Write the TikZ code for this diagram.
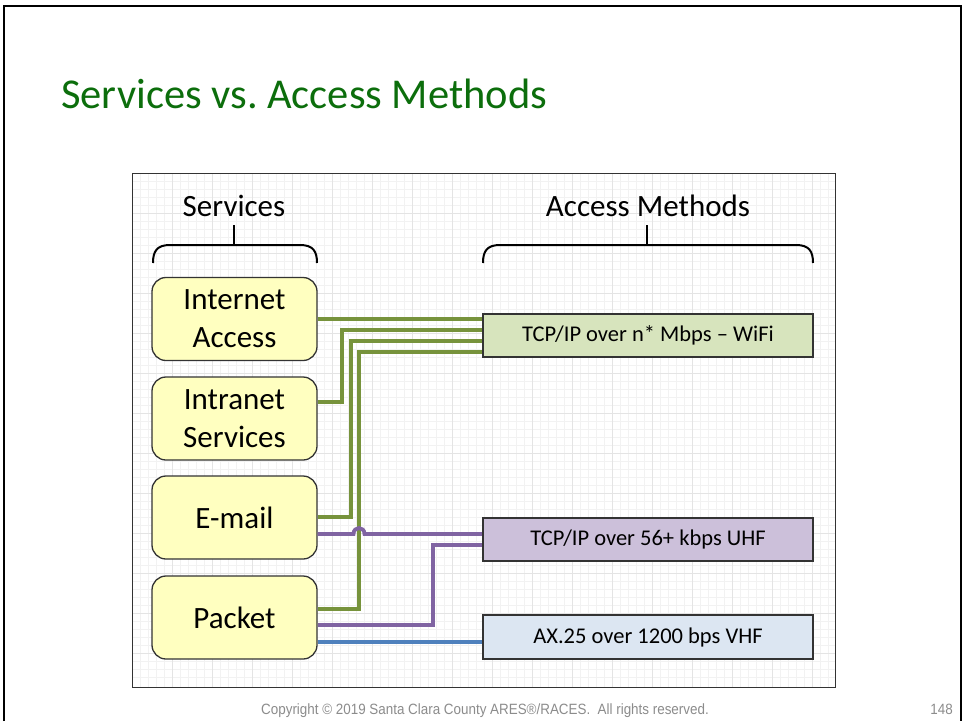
\documentclass[tikz,border=0pt]{standalone}
\usepackage{fontspec}
\setmainfont{Carlito}
\newfontfamily\copyfont[FakeStretch=0.9]{Liberation Sans}
\definecolor{titlegreen}{RGB}{12,110,12}
\definecolor{svcfill}{RGB}{255,255,192}
\definecolor{wififill}{RGB}{215,228,189}
\definecolor{uhffill}{RGB}{204,192,218}
\definecolor{vhffill}{RGB}{220,230,242}
\definecolor{gcol}{RGB}{119,147,60}
\definecolor{pcol}{RGB}{128,100,162}
\definecolor{bcol}{RGB}{79,129,189}
\definecolor{gridminor}{RGB}{242,242,242}
\definecolor{gridmajor}{RGB}{228,228,228}
\begin{document}
\begin{tikzpicture}[x=1pt,y=-1pt,
  svc/.style={draw=black!80, line width=1.3pt, fill=svcfill, rounded corners=14pt,
    minimum width=165pt, minimum height=83pt, align=center, inner sep=0pt,
    font=\fontsize{31}{38}\selectfont},
  acc/.style={draw=black!80, line width=1.3pt, minimum width=330pt, minimum height=43pt,
    inner sep=0pt, font=\fontsize{22.5}{27}\selectfont},
  hdr/.style={font=\fontsize{31}{38}\selectfont, inner sep=0pt},
  brace/.style={line width=2pt, black},
  gline/.style={line width=3.8pt, gcol},
  pline/.style={line width=3.8pt, pcol},
  bline/.style={line width=3.8pt, bcol},
  foot/.style={anchor=base west, inner sep=0pt, text=black!45, font=\copyfont\fontsize{14.9}{17}\selectfont}]
\useasboundingbox (0,0) rectangle (965,721);
\fill[white] (0,0) rectangle (965,721);
% outer frame
\draw[line width=2.2pt] (4,721) -- (4,6) -- (961,6) -- (961,721);
% title
\node[anchor=base west, text=titlegreen, inner sep=0pt, font=\fontsize{42.5}{50}\selectfont] (title) at (61,108) {Services vs.\ Access Methods};
% diagram grid
\fill[white] (132,173) rectangle (835,687);
\foreach \gx in {140,148,...,832} \draw[gridminor, line width=0.6pt] (\gx,173) -- (\gx,687);
\foreach \gy in {181,189,...,684} \draw[gridminor, line width=0.6pt] (132,\gy) -- (835,\gy);
\foreach \gx in {172,212,...,832} \draw[gridmajor, line width=0.7pt] (\gx,173) -- (\gx,687);
\foreach \gy in {213,253,...,684} \draw[gridmajor, line width=0.7pt] (132,\gy) -- (835,\gy);
\draw[black!80, line width=1pt] (132,173) rectangle (835,687);
% headers
\node[hdr] (shdr) at (234,206) {Services};
\node[hdr] (ahdr) at (648,206) {Access Methods};
% braces
\draw[brace] (153,263) .. controls (153,251) and (157,245) .. (170,245) -- (300,245) .. controls (313,245) and (317,251) .. (317,263);
\draw[brace] (234,225) -- (234,245);
\draw[brace] (483,263) .. controls (483,251) and (487,245) .. (500,245) -- (796,245) .. controls (809,245) and (813,251) .. (813,263);
\draw[brace] (647,225) -- (647,245);
% service boxes
\node[svc] (ia) at (234.5,319) {Internet\\Access};
\node[svc] (is) at (234.5,418.5) {Intranet\\Services};
\node[svc] (em) at (234.5,517.5) {E-mail};
\node[svc] (pk) at (234.5,617.5) {Packet};
% access boxes
\node[acc, fill=wififill] (wifi) at (648,335.5) {TCP/IP over n* Mbps -- WiFi};
\node[acc, fill=uhffill] (uhf) at (648,539.5) {TCP/IP over 56+ kbps UHF};
\node[acc, fill=vhffill] (vhf) at (648,637) {AX.25 over 1200 bps VHF};
% helper coordinates
\coordinate (g1) at (0,319);
\coordinate (g2) at (0,330);
\coordinate (g3) at (0,341);
\coordinate (g4) at (0,352);
\coordinate (v2) at (342,402);
\coordinate (v3) at (351,517);
\coordinate (v4) at (359,609);
\coordinate (p1) at (0,534);
\coordinate (p2) at (433,625);
\coordinate (p3) at (0,545);
\coordinate (b1) at (0,642);
% green connectors
\draw[gline] (ia.east |- g1) -- (wifi.west |- g1);
\draw[gline] (is.east |- v2) -- (v2) -- (v2 |- g2) -- (wifi.west |- g2);
\draw[gline] (em.east |- v3) -- (v3) -- (v3 |- g3) -- (wifi.west |- g3);
\draw[gline] (pk.east |- v4) -- (v4) -- (v4 |- g4) -- (wifi.west |- g4);
% purple connectors
\draw[pline] (em.east |- p1) -- (353.5,534) .. controls (353.5,526) and (364.5,526) .. (364.5,534) -- (uhf.west |- p1);
\draw[pline] (pk.east |- p2) -- (p2) -- (p2 |- p3) -- (uhf.west |- p3);
% blue connector
\draw[bline] (pk.east |- b1) -- (vhf.west |- b1);
% redraw box borders on top of line ends
\draw[draw=black!80, line width=1.3pt] (wifi.north west) rectangle (wifi.south east);
\draw[draw=black!80, line width=1.3pt] (uhf.north west) rectangle (uhf.south east);
\draw[draw=black!80, line width=1.3pt] (vhf.north west) rectangle (vhf.south east);
% footer
\node[foot] (copy) at (261,714) {Copyright © 2019 Santa Clara County ARES®/RACES.\ \ All rights reserved.};
\node[foot, anchor=base east] (pg) at (953,714) {148};
\end{tikzpicture}
\end{document}
